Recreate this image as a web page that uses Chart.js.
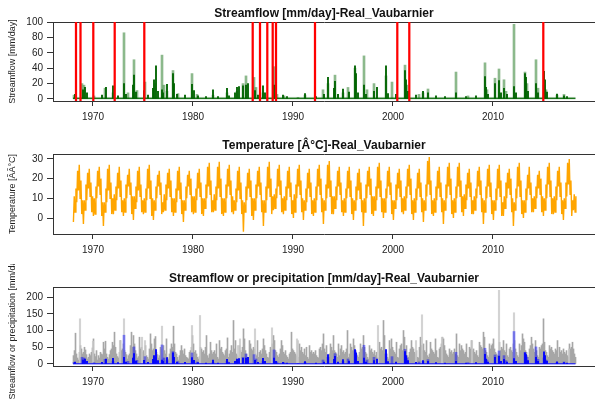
<!DOCTYPE html>
<html>
<head>
<meta charset="utf-8">
<script src="https://cdn.jsdelivr.net/npm/chart.js@4"></script>
<style>
    body { margin: 0; background: #fff; width: 595px; height: 403px; overflow: hidden; position: relative; }
    canvas { position: absolute; left: 0; }
</style>
</head>
<body>
<canvas id="flowChart" width="595" height="134" style="top:0"></canvas>
<canvas id="tempChart" width="595" height="130" style="top:134px"></canvas>
<canvas id="rainChart" width="595" height="139" style="top:264px"></canvas>
<script>
// ----- Data -----
const xTickValues = [1970, 1980, 1990, 2000, 2010];
const flowTicks = [0, 20, 40, 60, 80, 100];
const tempTicks = [0, 10, 20, 30];
const rainTicks = [0, 50, 100, 150, 200];

// red markers (decimal year)
const markerYears = [1968.3, 1968.75, 1970.03, 1972.17, 1975.13, 1985.97, 1986.7, 1987.43,
    1987.97, 1988.3, 1992.2, 2000.43, 2001.63, 2015.03];

// observed streamflow peaks [year, mm/day]
const obsFlowPeaks = [
    [1968.1, 5], [1968.9, 20], [1969.1, 18], [1970.1, 4], [1971.2, 14], [1972.0, 8], [1973.1, 86],
    [1973.5, 8], [1974.1, 51], [1974.4, 11], [1975.2, 22], [1976.2, 20], [1976.9, 57], [1977.1, 18],
    [1977.4, 10], [1978.0, 37], [1978.5, 7], [1979.9, 33], [1980.4, 6], [1982.0, 5], [1983.4, 8],
    [1984.4, 10], [1985.0, 20], [1985.3, 30], [1986.1, 28], [1986.3, 15], [1987.0, 8], [1988.1, 42],
    [1988.4, 6], [1989.1, 4], [1990.5, 2], [1991.2, 5], [1993.0, 12], [1993.5, 20], [1994.2, 31],
    [1995.0, 8], [1995.5, 15], [1996.2, 40], [1997.1, 56], [1997.4, 12], [1998.1, 20], [1999.3, 30],
    [1999.9, 22], [2001.2, 44], [2001.4, 18], [2002.6, 6], [2003.0, 8], [2003.5, 13], [2006.3, 35],
    [2007.5, 4], [2009.2, 47], [2009.4, 12], [2010.2, 27], [2010.6, 39], [2011.1, 25], [2011.3, 10],
    [2012.1, 97], [2013.2, 35], [2013.4, 20], [2014.3, 51], [2014.5, 14], [2015.1, 18], [2015.3, 12],
    [2016.4, 5], [2017.1, 6]
];

// simulated streamflow peaks [year, mm/day]
const simFlowPeaks = [
    [1968.2, 6], [1969.0, 12], [1969.2, 15], [1969.4, 8], [1970.9, 5], [1971.3, 15], [1972.0, 17],
    [1972.5, 4], [1973.1, 20], [1973.3, 6], [1974.0, 18], [1974.1, 31], [1974.3, 9], [1975.1, 11],
    [1975.5, 5], [1976.0, 14], [1976.1, 25], [1976.3, 43], [1976.5, 10], [1976.9, 12], [1977.0, 8],
    [1977.4, 19], [1978.0, 33], [1978.1, 20], [1978.4, 6], [1979.2, 5], [1979.9, 19], [1980.1, 11],
    [1980.5, 4], [1981.3, 3], [1982.0, 12], [1982.5, 3], [1983.4, 14], [1983.6, 4], [1984.2, 8],
    [1984.4, 15], [1984.6, 16], [1985.0, 17], [1985.3, 18], [1985.5, 20], [1986.2, 11], [1986.5, 5],
    [1987.0, 17], [1987.2, 8], [1988.1, 18], [1988.3, 8], [1989.0, 5], [1989.4, 3], [1991.2, 7],
    [1992.3, 3], [1993.1, 6], [1993.5, 28], [1994.1, 14], [1994.2, 23], [1994.5, 6], [1995.0, 13],
    [1995.6, 9], [1996.2, 43], [1996.3, 33], [1996.5, 8], [1997.1, 18], [1997.3, 6], [1998.1, 10],
    [1998.4, 15], [1999.3, 43], [1999.5, 7], [2000.3, 6], [2001.2, 37], [2001.3, 25], [2001.5, 10],
    [2002.3, 5], [2003.0, 10], [2003.5, 8], [2004.3, 4], [2005.2, 3], [2006.3, 8], [2007.3, 3],
    [2008.3, 4], [2009.2, 29], [2009.3, 15], [2009.5, 6], [2010.2, 20], [2010.6, 24], [2010.8, 8],
    [2011.1, 14], [2011.4, 6], [2012.1, 16], [2012.3, 8], [2013.2, 33], [2013.3, 28], [2013.5, 10],
    [2014.3, 20], [2014.5, 8], [2015.1, 36], [2015.2, 25], [2015.4, 9], [2016.4, 6.5], [2017.1, 4],
    [2017.4, 3]
];

// low-flow level [year, mm/day]
const obsBaseflow = [[1968.0, 2], [2018.25, 2]];
const simBaseflow = [[1968.0, 0.5], [2018.25, 0.5]];

// temperature, one row per year from 1968, monthly low/high swings
const tempFirstYear = 1968;
const tempRows = [
    [-2, 11, 3, 15, 8, 24, 14, 27, 10, 19, 2, 9],
    [-3, 9, 4, 17, 9, 23, 15, 25, 11, 18, 3, 11],
    [1, 10, 2, 16, 10, 24, 16, 26, 12, 20, 1, 8],
    [-4, 8, 3, 15, 8, 25, 14, 27, 10, 18, 2, 10],
    [2, 12, 4, 16, 9, 23, 15, 26, 11, 19, 3, 9],
    [1, 10, 3, 17, 10, 22, 16, 25, 12, 18, 2, 11],
    [-1, 11, 5, 16, 8, 24, 14, 26, 11, 17, 3, 9],
    [2, 10, 3, 15, 9, 25, 15, 27, 10, 19, 1, 10],
    [-1, 9, 4, 16, 10, 22, 16, 24, 12, 18, 2, 8],
    [3, 12, 4, 17, 9, 23, 15, 25, 11, 19, 3, 10],
    [1, 10, 3, 15, 8, 24, 14, 26, 10, 18, 2, 9],
    [-2, 9, 4, 16, 10, 22, 16, 24, 12, 20, 3, 11],
    [2, 11, 3, 15, 9, 23, 15, 25, 11, 18, 2, 10],
    [1, 10, 5, 17, 10, 26, 16, 28, 12, 19, 3, 9],
    [3, 12, 4, 16, 9, 26, 15, 28.5, 11, 20, 2, 10],
    [1, 10, 3, 17, 10, 25, 16, 27, 12, 19, 3, 11],
    [2, 9, 4, 15, 8, 24, 14, 26, 10, 18, 2, 9],
    [-7, 8, 3, 16, 9, 23, 15, 25, 11, 19, 1, 10],
    [-1, 10, 4, 17, 10, 24, 16, 26, 12, 18, 3, 9],
    [-4, 9, 3, 16, 9, 26, 15, 28.5, 11, 20, 2, 11],
    [4, 12, 5, 15, 10, 25, 16, 27, 12, 19, 3, 10],
    [2, 11, 4, 16, 9, 24, 15, 26, 11, 18, 2, 9],
    [0, 12, 3, 17, 10, 25, 16, 27, 12, 19, 3, 10],
    [-1, 9, 4, 15, 8, 23, 15, 25, 11, 18, 2, 9],
    [1, 10, 3, 16, 9, 25, 16, 27, 12, 20, 3, 10],
    [-3, 9, 4, 17, 10, 27, 15, 29, 11, 19, 2, 11],
    [2, 11, 5, 16, 9, 24, 16, 26, 12, 18, 3, 9],
    [1, 10, 3, 15, 10, 24, 15, 26, 11, 19, 2, 10],
    [-1, 9, 4, 16, 9, 23, 14, 25, 10, 18, 3, 9],
    [-4, 10, 3, 17, 10, 24, 16, 26, 12, 20, 2, 11],
    [1, 11, 4, 16, 9, 26, 15, 28, 11, 19, 3, 10],
    [0, 10, 3, 15, 10, 24, 16, 26, 12, 18, 2, 9],
    [-1, 9, 5, 17, 9, 23, 15, 25, 11, 19, 3, 10],
    [2, 11, 4, 16, 10, 25, 16, 27, 12, 20, 2, 9],
    [-1, 10, 3, 15, 9, 23, 15, 25, 11, 18, 3, 10],
    [-2, 9, 4, 17, 11, 29, 17, 31, 12, 19, 2, 9],
    [1, 10, 3, 16, 9, 24, 15, 26, 11, 18, 3, 10],
    [-3, 9, 4, 17, 10, 26, 16, 28, 12, 20, 2, 9],
    [0, 10, 3, 16, 10, 26, 16, 28, 11, 19, 3, 11],
    [1, 12, 5, 17, 9, 23, 15, 25, 11, 18, 2, 9],
    [2, 11, 4, 15, 10, 24, 16, 26, 12, 19, 3, 10],
    [-3, 9, 3, 16, 10, 25, 16, 27, 11, 18, 2, 9],
    [-1, 9, 4, 15, 9, 25, 15, 27, 11, 19, 1, 8],
    [1, 11, 5, 18, 10, 23, 15, 25, 12, 20, 3, 10],
    [-4, 8, 4, 15, 10, 26, 16, 28, 11, 19, 2, 9],
    [0, 9, 3, 15, 9, 22, 15, 26, 12, 18, 3, 10],
    [3, 11, 5, 16, 10, 22, 15, 24, 12, 20, 3, 11],
    [1, 10, 4, 17, 10, 26, 17, 28, 11, 19, 2, 10],
    [2, 11, 3, 16, 9, 24, 16, 26, 11, 18, 2, 9],
    [-1, 10, 5, 18, 11, 28, 17, 30, 12, 19, 1, 9],
    [4, 12, 3, 11]
];

// precipitation, one row per year from 1968, ten slots per year (mm/day)
const rainFirstYear = 1968;
const rainRows = [
    [25, 40, 92, 30, 18, 12, 35, 55, 45, 30],
    [35, 50, 42, 28, 15, 20, 30, 25, 35, 48],
    [75, 30, 22, 40, 12, 25, 18, 35, 30, 28],
    [65, 45, 68, 30, 20, 15, 28, 40, 45, 65],
    [55, 95, 50, 30, 22, 18, 35, 70, 40, 45],
    [60, 40, 35, 28, 15, 25, 30, 55, 95, 50],
    [85, 60, 40, 30, 18, 22, 80, 45, 50, 35],
    [40, 30, 55, 25, 20, 15, 45, 90, 60, 40],
    [45, 75, 82, 35, 28, 18, 25, 50, 45, 30],
    [55, 40, 30, 75, 20, 15, 30, 45, 60, 50],
    [113, 60, 35, 30, 20, 12, 25, 40, 55, 40],
    [30, 45, 25, 20, 18, 15, 35, 40, 50, 85],
    [60, 35, 40, 30, 20, 15, 22, 50, 45, 35],
    [40, 30, 50, 85, 25, 18, 30, 65, 40, 30],
    [35, 40, 30, 60, 20, 15, 70, 45, 50, 35],
    [30, 25, 40, 45, 78, 20, 30, 40, 55, 35],
    [130, 45, 70, 30, 25, 20, 55, 40, 35, 50],
    [105, 75, 40, 30, 20, 15, 70, 60, 45, 40],
    [50, 45, 30, 25, 70, 20, 35, 40, 30, 45],
    [75, 55, 40, 30, 20, 18, 35, 50, 45, 60],
    [85, 70, 40, 35, 25, 20, 30, 45, 70, 55],
    [35, 30, 40, 25, 20, 15, 30, 35, 95, 45],
    [40, 35, 30, 25, 18, 20, 60, 40, 50, 35],
    [30, 45, 25, 50, 20, 15, 55, 35, 40, 30],
    [35, 30, 40, 25, 20, 18, 45, 50, 40, 60],
    [90, 45, 35, 55, 25, 20, 30, 60, 50, 40],
    [85, 40, 35, 30, 20, 60, 25, 45, 55, 35],
    [40, 30, 35, 45, 100, 20, 30, 60, 50, 40],
    [75, 55, 40, 30, 25, 20, 35, 60, 45, 50],
    [85, 50, 35, 30, 20, 15, 55, 40, 45, 35],
    [30, 40, 25, 35, 20, 18, 65, 45, 50, 40],
    [130, 85, 40, 30, 20, 15, 70, 45, 75, 50],
    [40, 35, 30, 65, 20, 18, 45, 55, 60, 40],
    [100, 80, 40, 55, 25, 20, 35, 45, 70, 50],
    [45, 35, 30, 40, 20, 18, 50, 80, 55, 40],
    [60, 40, 35, 70, 25, 20, 30, 65, 45, 40],
    [35, 30, 75, 40, 20, 18, 45, 50, 60, 80],
    [75, 55, 40, 30, 25, 20, 45, 35, 40, 30],
    [35, 45, 30, 90, 25, 20, 60, 40, 55, 45],
    [40, 30, 35, 60, 20, 18, 50, 45, 70, 40],
    [45, 35, 30, 40, 25, 20, 65, 55, 50, 45],
    [95, 80, 40, 35, 25, 20, 60, 45, 55, 60],
    [75, 45, 35, 30, 25, 20, 65, 40, 50, 45],
    [70, 40, 35, 60, 25, 20, 45, 50, 40, 35],
    [60, 70, 45, 35, 25, 20, 60, 40, 55, 90],
    [75, 65, 40, 35, 25, 20, 45, 55, 80, 60],
    [45, 35, 70, 40, 25, 20, 50, 45, 55, 60],
    [135, 65, 40, 35, 25, 20, 55, 45, 50, 40],
    [35, 30, 45, 40, 70, 20, 50, 35, 40, 30],
    [45, 35, 30, 40, 25, 20, 60, 45, 50, 65],
    [45, 30, 20]
];

// second precipitation series, tallest spikes only [year, mm/day]
const rainPeaks2 = [
    [1968.7, 135], [1970.0, 68], [1972.7, 70], [1973.1, 135], [1974.9, 80], [1975.2, 70],
    [1976.9, 113], [1979.9, 115], [1980.7, 145], [1984.5, 55], [1984.7, 75], [1986.2, 105],
    [1987.9, 108], [1990.4, 75], [1990.5, 70], [1998.5, 115], [2002.3, 70], [2002.9, 147],
    [2004.9, 80], [2007.9, 70], [2010.6, 220], [2012.1, 153], [2017.6, 45]
];

// ----- Styling -----
const FONT = '"Liberation Sans", Arial, sans-serif';
const AXIS = '#333333';
const TEXT = '#222222';
const X_MIN = 1966.0;
const X_MAX = 2020.2;

const toXY = arr => arr.map(p => ({ x: p[0], y: p[1] }));

function flattenRows(rows, firstYear, perYear) {
    const out = [];
    rows.forEach((row, r) => row.forEach((v, i) => {
        out.push({ x: firstYear + r + (i + 0.5) / perYear, y: v });
    }));
    return out;
}

function xScale(height) {
    return {
        type: 'linear', min: X_MIN, max: X_MAX, offset: false,
        afterBuildTicks: s => { s.ticks = xTickValues.map(v => ({ value: v })); },
        afterFit: s => { s.height = height; },
        grid: { drawOnChartArea: false, drawTicks: true, tickLength: 5, color: AXIS, offset: false },
        border: { display: true, color: AXIS, width: 1 },
        ticks: { color: TEXT, font: { size: 10, family: FONT }, padding: 5, maxRotation: 0, autoSkip: false, callback: v => String(v) }
    };
}

function topScale() {
    return {
        type: 'linear', position: 'top', min: X_MIN, max: X_MAX,
        afterBuildTicks: s => { s.ticks = []; },
        afterFit: s => { s.height = 0; },
        grid: { drawOnChartArea: false, drawTicks: false },
        border: { display: true, color: AXIS, width: 1 },
        ticks: { display: false }
    };
}

function yScale(min, max, tickValues, label) {
    return {
        type: 'linear', min: min, max: max,
        afterBuildTicks: s => { s.ticks = tickValues.map(v => ({ value: v })); },
        afterFit: s => { s.width = 53; },
        grid: { drawOnChartArea: false, drawTicks: true, tickLength: 6, color: AXIS },
        border: { display: true, color: AXIS, width: 1 },
        ticks: { color: TEXT, font: { size: 10, family: FONT }, padding: 4, callback: v => String(v) },
        title: { display: true, text: label, color: TEXT, font: { size: 9, family: FONT }, padding: { top: 7, bottom: 0 } }
    };
}

function baseOptions(title, titlePadTop, xHeight, y) {
    return {
        responsive: false,
        animation: false,
        layout: { padding: 0 },
        plugins: {
            legend: { display: false },
            tooltip: { enabled: false },
            title: {
                display: true, text: title, fullSize: false, color: '#111',
                font: { size: 12, weight: 'bold', family: FONT },
                padding: { top: titlePadTop, bottom: 1.6 }
            }
        },
        scales: { x: xScale(xHeight), xTop: topScale(), y: y }
    };
}

function spikes(data, color, width) {
    return { type: 'bar', data: data, backgroundColor: color, borderWidth: 0, barThickness: width, grouped: false };
}

function flatLine(data, color) {
    return { type: 'line', data: data, borderColor: color, borderWidth: 1, pointRadius: 0, tension: 0 };
}

// ----- Charts -----
document.addEventListener('DOMContentLoaded', () => {
    const markers = markerYears.map(x => ({ x: x, y: [-10, 110] }));

    new Chart(document.getElementById('flowChart'), {
        type: 'line',
        data: {
            datasets: [
                spikes(markers, '#ff0000', 1.6),
                spikes(toXY(simFlowPeaks), '#006400', 1.2),
                flatLine(toXY(simBaseflow), '#006400'),
                spikes(toXY(obsFlowPeaks), 'rgba(0,100,0,0.45)', 2),
                flatLine(toXY(obsBaseflow), 'rgba(0,100,0,0.45)')
            ]
        },
        options: baseOptions('Streamflow [mm/day]-Real_Vaubarnier', 6, 33,
            yScale(-2.6, 100, flowTicks, 'Streamflow [mm/day]'))
    });

    new Chart(document.getElementById('tempChart'), {
        type: 'line',
        data: {
            datasets: [
                { data: flattenRows(tempRows, tempFirstYear, 12), borderColor: '#ffa500', borderWidth: 1.4, pointRadius: 0, tension: 0 }
            ]
        },
        options: baseOptions('Temperature [Â°C]-Real_Vaubarnier', 4, 30,
            yScale(-8.1, 32.5, tempTicks, 'Temperature [ÃÂ°C]'))
    });

    new Chart(document.getElementById('rainChart'), {
        type: 'line',
        data: {
            datasets: [
                spikes(toXY(simFlowPeaks), '#0000ff', 1.2),
                flatLine(toXY(simBaseflow), '#0000ff'),
                spikes(toXY(obsFlowPeaks), 'rgba(0,0,255,0.45)', 2),
                spikes(toXY(rainPeaks2), 'rgba(200,200,200,0.8)', 1.5),
                spikes(flattenRows(rainRows, rainFirstYear, 10), '#a6a6a6', 1)
            ]
        },
        options: baseOptions('Streamflow or precipitation [mm/day]-Real_Vaubarnier', 7, 37,
            yScale(-6, 230, rainTicks, 'Streamflow or precipitation [mm/day]'))
    });
});
</script>
</body>
</html>
